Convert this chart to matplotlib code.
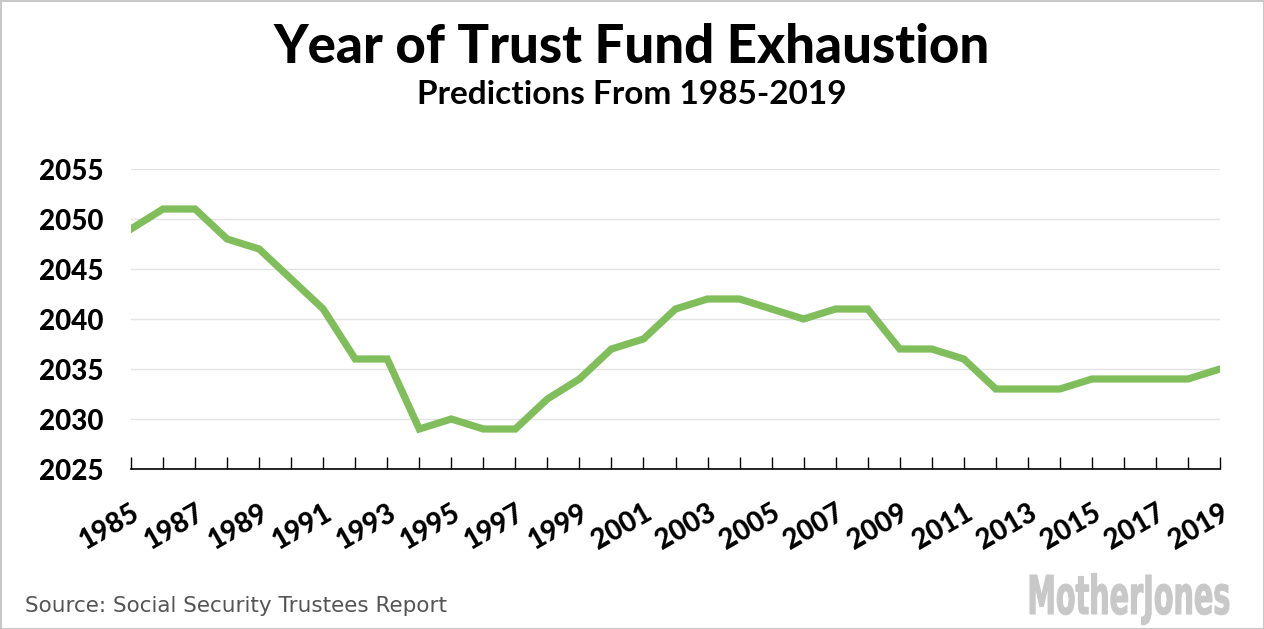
import matplotlib
matplotlib.use("Agg")
import matplotlib.pyplot as plt
from matplotlib.patches import Rectangle, PathPatch
from matplotlib.textpath import TextPath
from matplotlib.font_manager import FontProperties
from matplotlib.transforms import Affine2D

# report year -> projected year of trust fund exhaustion
years = list(range(1985, 2020))
exhaustion = [2049, 2051, 2051, 2048, 2047, 2044, 2041, 2036, 2036, 2029,
              2030, 2029, 2029, 2032, 2034, 2037, 2038, 2041, 2042, 2042,
              2041, 2040, 2041, 2041, 2037, 2037, 2036, 2033, 2033, 2033,
              2034, 2034, 2034, 2034, 2035]
yticks = [2025, 2030, 2035, 2040, 2045, 2050, 2055]
xlabels = years[::2]

title = "Year of Trust Fund Exhaustion"
subtitle = "Predictions From 1985-2019"
source = "Source: Social Security Trustees Report"
logo = "MotherJones"

W, H = 1264, 629
fig = plt.figure(figsize=(W/100, H/100), dpi=100)
ax = fig.add_axes([131/W, 1-469/H, (1220-131)/W, 300/H])

ax.plot(years, exhaustion, color="#80bd5b", lw=5.2, solid_joinstyle="miter", zorder=3)

ax.set_xlim(1985, 2019)
ax.set_ylim(2025, 2055)
ax.set_yticks(yticks)
ax.set_yticklabels([str(v) for v in yticks], fontfamily="Lato", fontweight="black", fontsize=20)
ax.set_xticks(years)
ax.set_xticklabels([str(y) if y in xlabels else "" for y in years],
                   fontfamily="Lato", fontweight="black", fontsize=20,
                   rotation=30, ha="right", va="top", rotation_mode="anchor")
ax.tick_params(axis="y", length=0, pad=20)
ax.tick_params(axis="x", direction="in", length=9, width=1, color="black", pad=22)
ax.grid(axis="y", color="#e3e3e3", lw=1)
ax.set_axisbelow(True)
for s in ["top", "right", "left"]:
    ax.spines[s].set_visible(False)
ax.spines["bottom"].set_linewidth(1.2)
ax.spines["bottom"].set_zorder(4)

fig.text(0.5, 1-63/H, title, ha="center", va="baseline", fontfamily="Lato",
         fontweight="black", fontsize=38)
fig.text(0.5, 1-104/H, subtitle, ha="center", va="baseline", fontfamily="Lato",
         fontweight="bold", fontsize=24)
fig.text(25/W, 1-612/H, source, ha="left", va="baseline", fontfamily="DejaVu Sans",
         fontsize=15.5, color="#555555")

# logo: squeeze bold text into its box (x 1030-1229, baseline 614, cap top 575)
tp = TextPath((0, 0), logo, size=100, prop=FontProperties(family="DejaVu Sans", weight="bold"))
bb = tp.get_extents()
sx = (1229 - 1030) / bb.width
sy = (614 - 575) / 73.0
tr = Affine2D().translate(-bb.x0, 0).scale(sx, sy).translate(1030, H - 614)
fig.patches.append(PathPatch(tr.transform_path(tp), transform=None, fc="#c8c8c8", ec="#c8c8c8", lw=0.8))

fig.patches.append(Rectangle((0.5/W, 0.5/H), 1-1/W, 1-1/H, transform=fig.transFigure,
                             fill=False, ec="#c8c8c8", lw=1.5))

fig.savefig("out.png", dpi=100)
